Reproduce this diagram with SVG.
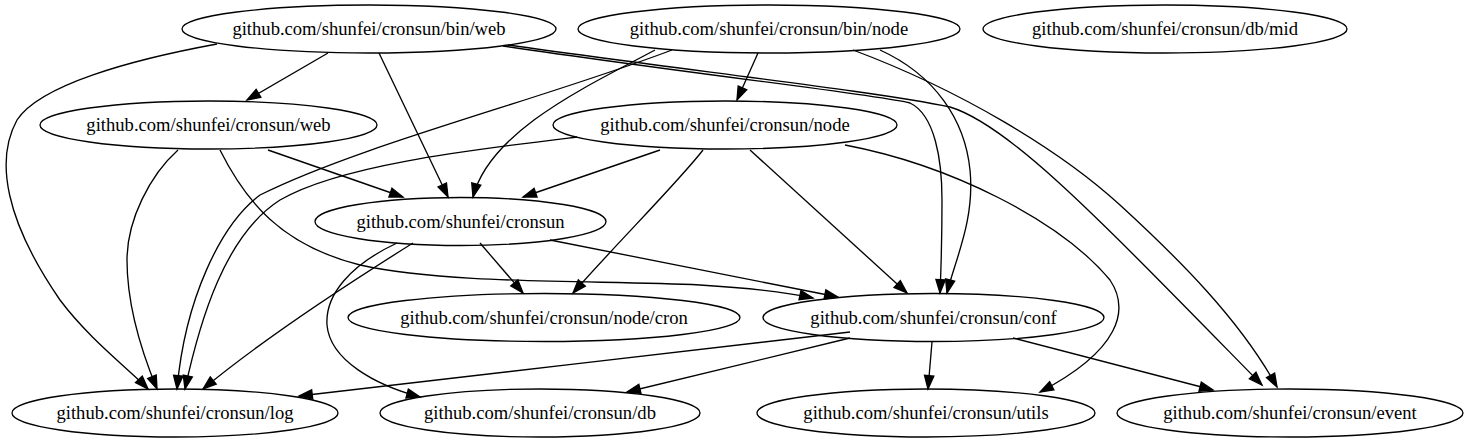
<svg xmlns="http://www.w3.org/2000/svg" width="1472" height="443" viewBox="0 0 1472 443">
<style>
.node ellipse{fill:none;stroke:#000;stroke-width:1.33}
.node text{font-family:"Liberation Serif","Times New Roman",serif;font-size:18.6px;text-anchor:middle;fill:#000}
.edges path{fill:none;stroke:#000;stroke-width:1.33;marker-end:url(#arr)}
</style>
<defs>
<marker id="arr" markerUnits="userSpaceOnUse" markerWidth="16" markerHeight="12" viewBox="-1 -1 15 12" refX="13.3" refY="4.67" orient="auto" overflow="visible">
<path d="M0,0 L13.3,4.67 L0,9.33 Z" fill="#000" stroke="#000" stroke-width="1.33"/>
</marker>
</defs>
<rect width="1472" height="443" fill="#fff"/>
<g id="n_binweb" class="node"><ellipse cx="369" cy="29" rx="187" ry="24"/><text x="369" y="35">github.com/shunfei/cronsun/bin/web</text></g>
<g id="n_binnode" class="node"><ellipse cx="769" cy="29" rx="191" ry="24"/><text x="769" y="35">github.com/shunfei/cronsun/bin/node</text></g>
<g id="n_dbmid" class="node"><ellipse cx="1165" cy="29" rx="182" ry="24"/><text x="1165" y="35">github.com/shunfei/cronsun/db/mid</text></g>
<g id="n_web" class="node"><ellipse cx="208.5" cy="125" rx="168.5" ry="24"/><text x="208.5" y="131">github.com/shunfei/cronsun/web</text></g>
<g id="n_node" class="node"><ellipse cx="725" cy="125" rx="172" ry="24"/><text x="725" y="131">github.com/shunfei/cronsun/node</text></g>
<g id="n_cronsun" class="node"><ellipse cx="460.5" cy="221.5" rx="145.5" ry="24"/><text x="460.5" y="227.5">github.com/shunfei/cronsun</text></g>
<g id="n_nodecron" class="node"><ellipse cx="544" cy="317.5" rx="196" ry="24"/><text x="544" y="323.5">github.com/shunfei/cronsun/node/cron</text></g>
<g id="n_conf" class="node"><ellipse cx="933.5" cy="317.5" rx="170.5" ry="24"/><text x="933.5" y="323.5">github.com/shunfei/cronsun/conf</text></g>
<g id="n_log" class="node"><ellipse cx="175" cy="413" rx="163" ry="24"/><text x="175" y="419">github.com/shunfei/cronsun/log</text></g>
<g id="n_db" class="node"><ellipse cx="540" cy="413" rx="160" ry="24"/><text x="540" y="419">github.com/shunfei/cronsun/db</text></g>
<g id="n_utils" class="node"><ellipse cx="926" cy="413" rx="169" ry="24"/><text x="926" y="419">github.com/shunfei/cronsun/utils</text></g>
<g id="n_event" class="node"><ellipse cx="1290" cy="413" rx="173" ry="24"/><text x="1290" y="419">github.com/shunfei/cronsun/event</text></g>
<g id="edges" class="edges">
<path d="M328,53 L247,100"/>
<path d="M379,53 L448,197"/>
<path d="M217,44 C130,60 40,85 17,120 C-5,160 5,220 60,300 C90,340 130,370 148,389"/>
<path d="M503,46 C700,75 880,95 910,103 C935,115 942,160 942,200 C942,240 941,270 940,293"/>
<path d="M508,45 C700,72 880,92 950,107 C1010,125 1100,220 1262,385"/>
<path d="M758,53 L737,100"/>
<path d="M655,50 C590,85 490,130 473,197"/>
<path d="M672,50 C540,100 360,145 260,195 C220,225 185,300 177,389"/>
<path d="M880,50 C935,75 965,120 970,170 C975,220 955,260 947,293"/>
<path d="M853,50 C960,90 1060,150 1120,205 C1180,260 1240,320 1277,387"/>
<path d="M268,150 L403,197"/>
<path d="M178,150 C150,175 127,220 127,260 C127,310 145,360 157,389"/>
<path d="M220,150 C245,200 280,245 360,265 C450,285 600,280 700,285 C750,288 790,293 813,298"/>
<path d="M660,150 L523,197"/>
<path d="M577,137 C470,150 340,165 280,200 C225,235 200,320 185,389"/>
<path d="M703,150 C680,180 620,240 573,293"/>
<path d="M750,150 L907,293"/>
<path d="M845,145 C950,165 1060,220 1110,280 C1130,310 1120,350 1040,392"/>
<path d="M480,243 L523,293"/>
<path d="M550,240 L838,297"/>
<path d="M413,243 C330,295 250,350 203,389"/>
<path d="M397,243 C350,265 325,295 327,325 C330,360 375,385 420,397"/>
<path d="M850,332 C700,350 450,378 299,396"/>
<path d="M850,338 L627,392"/>
<path d="M932,342 L928,389"/>
<path d="M1013,338 L1213,390"/>
</g>
</svg>
